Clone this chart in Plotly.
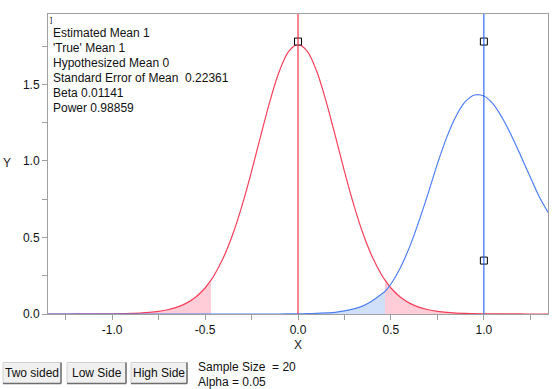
import plotly.graph_objects as go

# ---------------- data ----------------
x_vals = [-1.35, -1.3, -1.25, -1.2, -1.15, -1.1, -1.05, -1.0, -0.95, -0.9, -0.85, -0.8, -0.75, -0.7,
          -0.65, -0.6, -0.55, -0.5, -0.468, -0.45, -0.4, -0.35, -0.3, -0.25, -0.2, -0.15, -0.1, -0.05,
          0.0, 0.05, 0.1, 0.15, 0.2, 0.25, 0.3, 0.35, 0.4, 0.45, 0.468, 0.5, 0.55, 0.6, 0.65, 0.7,
          0.75, 0.8, 0.85, 0.9, 0.95, 1.0, 1.05, 1.1, 1.15, 1.2, 1.25, 1.3, 1.35]

null_density = [0.0001, 0.0001, 0.0001, 0.0002, 0.0003, 0.0005, 0.001, 0.001, 0.002, 0.004, 0.006, 0.010, 0.017, 0.028,
                0.045, 0.071, 0.111, 0.170, 0.221, 0.255, 0.372, 0.524, 0.713, 0.932, 1.167, 1.394, 1.587, 1.716,
                1.762, 1.716, 1.587, 1.394, 1.167, 0.932, 0.713, 0.524, 0.372, 0.255, 0.221, 0.170, 0.111, 0.071, 0.045, 0.028,
                0.017, 0.010, 0.006, 0.004, 0.002, 0.001, 0.001, 0.0005, 0.0003, 0.0002, 0.0001, 0.0001, 0.0001]

alt_density = [0.0, 0.0, 0.0, 0.0, 0.0, 0.0, 0.0, 0.0, 0.0, 0.0, 0.0, 0.0, 0.0, 0.0,
               0.0, 0.0, 0.0, 0.0, 0.0, 0.0, 0.0, 0.0, 0.0, 0.0, 0.0, 0.0, 0.0, 0.0005,
               0.001, 0.002, 0.004, 0.007, 0.011, 0.020, 0.033, 0.053, 0.087, 0.131, 0.147, 0.196, 0.301, 0.437, 0.604, 0.788,
               0.981, 1.154, 1.292, 1.387, 1.431, 1.424, 1.371, 1.279, 1.161, 1.029, 0.894, 0.761, 0.655]

critical_value = 0.468
hypothesized_mean = 0.0
true_mean = 1.0
handle_x = [0.0, 1.0, 1.0]
handle_y = [1.78, 1.78, 0.349]

x_tick_vals = [-1.0, -0.5, 0.0, 0.5, 1.0]
x_tick_text = ["-1.0", "-0.5", "0.0", "0.5", "1.0"]
x_minor_vals = [-1.25, -0.75, -0.25, 0.25, 0.75, 1.25]
y_tick_vals = [0.0, 0.5, 1.0, 1.5]
y_tick_text = ["0.0", "0.5", "1.0", "1.5"]
y_minor_vals = [0.25, 0.75, 1.25, 1.75]

info_lines = ["Estimated Mean 1", "'True' Mean 1", "Hypothesized Mean 0",
              "Standard Error of Mean  0.22361", "Beta 0.01141", "Power 0.98859"]
button_labels = ["Two sided", "Low Side", "High Side"]
footer_lines = ["Sample Size  = 20", "Alpha = 0.05"]

# ---------------- style ----------------
FONT = "Liberation Sans"
RED = "#f5405a"
RED_V = "#ff1f3c"
BLUE = "#4f7ff5"
BLUE_V = "#1f5fff"
PINK_FILL = "rgba(255,196,208,0.85)"
BLUE_FILL = "rgba(196,216,250,0.8)"
AXIS = "#a0a0a0"

W, H = 555, 389
ML, MR, MT, MB = 48, 7, 14, 75
PW = W - ML - MR
PH = H - MT - MB


def px(xp):
    return (xp - ML) / PW


def py(yp):
    return (H - MB - yp) / PH


fig = go.Figure()

left_idx = [i for i, v in enumerate(x_vals) if v <= -critical_value]
right_idx = [i for i, v in enumerate(x_vals) if v >= critical_value]
beta_idx = [i for i, v in enumerate(x_vals) if v <= critical_value]

fig.add_trace(go.Scatter(x=[x_vals[i] for i in beta_idx], y=[alt_density[i] for i in beta_idx],
                         fill="tozeroy", fillcolor=BLUE_FILL, mode="lines", line=dict(width=0, shape="spline"),
                         hoverinfo="skip"))
fig.add_trace(go.Scatter(x=[x_vals[i] for i in left_idx], y=[null_density[i] for i in left_idx],
                         fill="tozeroy", fillcolor=PINK_FILL, mode="lines", line=dict(width=0, shape="spline"),
                         hoverinfo="skip"))
fig.add_trace(go.Scatter(x=[x_vals[i] for i in right_idx], y=[null_density[i] for i in right_idx],
                         fill="tozeroy", fillcolor=PINK_FILL, mode="lines", line=dict(width=0, shape="spline"),
                         hoverinfo="skip"))

fig.add_trace(go.Scatter(x=x_vals, y=null_density, mode="lines",
                         line=dict(color=RED, width=1.2, shape="spline")))
fig.add_trace(go.Scatter(x=x_vals, y=alt_density, mode="lines",
                         line=dict(color=BLUE, width=1.2, shape="spline")))

fig.add_vline(x=hypothesized_mean, line=dict(color=RED_V, width=1.1))
fig.add_vline(x=true_mean, line=dict(color=BLUE_V, width=1.1))

fig.add_trace(go.Scatter(x=handle_x, y=handle_y, mode="markers",
                         marker=dict(symbol="square", size=7, color="white",
                                     line=dict(color="black", width=1))))

# info text
for k, t in enumerate(info_lines):
    fig.add_annotation(x=px(51), y=py(33 + 14.9 * k), xref="paper", yref="paper", text=t,
                       showarrow=False, xanchor="left", yanchor="middle",
                       font=dict(family=FONT, size=12, color="#111"))
fig.add_annotation(x=px(48), y=py(19), xref="paper", yref="paper", text="]",
                   showarrow=False, xanchor="left", yanchor="middle",
                   font=dict(family=FONT, size=8, color="#111"))

# axis labels
fig.add_annotation(x=px(7), y=py(163), xref="paper", yref="paper", text="Y", showarrow=False,
                   xanchor="center", yanchor="middle", font=dict(family=FONT, size=12, color="#222"))
fig.add_annotation(x=px(298), y=py(345), xref="paper", yref="paper", text="X", showarrow=False,
                   xanchor="center", yanchor="middle", font=dict(family=FONT, size=12, color="#222"))

# buttons
button_px = [(3, 61), (67, 126), (131, 187)]
by0, by1 = 362.5, 383.5
for (bx0, bx1), lab in zip(button_px, button_labels):
    fig.add_shape(type="rect", xref="paper", yref="paper", x0=px(bx0), x1=px(bx1), y0=py(by1), y1=py(by0),
                  fillcolor="#f0f0f0", line=dict(color="#d0d0d0", width=1))
    fig.add_shape(type="line", xref="paper", yref="paper", x0=px(bx0), x1=px(bx1), y0=py(by1), y1=py(by1),
                  line=dict(color="#6e6e6e", width=1.5))
    fig.add_shape(type="line", xref="paper", yref="paper", x0=px(bx1), x1=px(bx1), y0=py(by1), y1=py(by0),
                  line=dict(color="#6e6e6e", width=1.5))
    fig.add_annotation(x=px((bx0 + bx1) / 2), y=py(373), xref="paper", yref="paper", text=lab,
                       showarrow=False, xanchor="center", yanchor="middle",
                       font=dict(family=FONT, size=12, color="#111"))

for k, t in enumerate(footer_lines):
    fig.add_annotation(x=px(196), y=py(367 + 15 * k), xref="paper", yref="paper", text=t,
                       showarrow=False, xanchor="left", yanchor="middle",
                       font=dict(family=FONT, size=12, color="#111"))

fig.update_layout(
    width=W, height=H, margin=dict(l=ML, r=MR, t=MT, b=MB),
    paper_bgcolor="white", plot_bgcolor="white", showlegend=False,
    font=dict(family=FONT, size=12, color="#111"),
    xaxis=dict(range=[-1.345, 1.345], tickmode="array", tickvals=x_tick_vals, ticktext=x_tick_text,
               ticks="outside", ticklen=5, tickcolor=AXIS, showgrid=False, zeroline=False,
               showline=True, linecolor=AXIS, mirror=True, linewidth=1,
               minor=dict(tickmode="array", tickvals=x_minor_vals, ticks="outside", ticklen=5, tickcolor=AXIS),
               tickfont=dict(family=FONT, size=12, color="#111")),
    yaxis=dict(range=[0, 1.96], tickmode="array", tickvals=y_tick_vals, ticktext=y_tick_text,
               ticks="outside", ticklen=5, tickcolor=AXIS, showgrid=False, zeroline=False,
               showline=True, linecolor=AXIS, mirror=True, linewidth=1,
               minor=dict(tickmode="array", tickvals=y_minor_vals, ticks="outside", ticklen=5, tickcolor=AXIS),
               tickfont=dict(family=FONT, size=12, color="#111")),
)

fig.write_html("out.html", config={"displayModeBar": False},
               post_script="document.body.style.margin='0px';document.body.style.overflow='hidden';")
